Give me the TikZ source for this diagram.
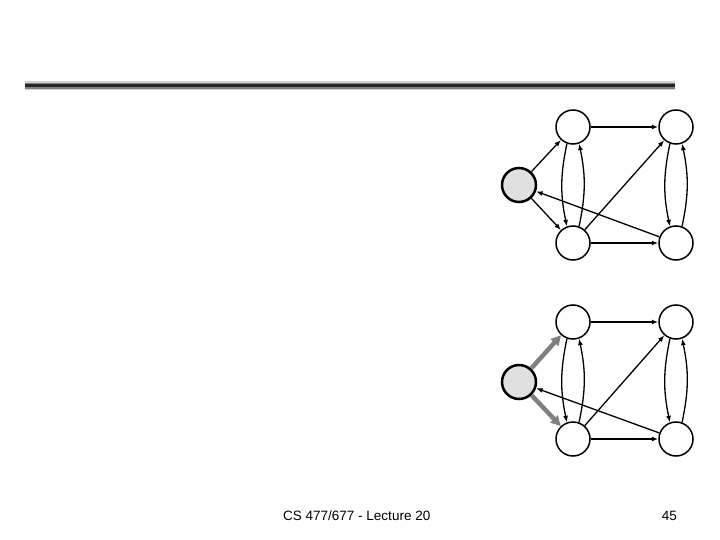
\documentclass[tikz,border=0pt]{standalone}
\usepackage{fontspec}
\setmainfont{Liberation Sans}
\usetikzlibrary{positioning, arrows.meta, shapes}

\begin{document}
\begin{tikzpicture}[
    x=1pt, y=-1pt,
    % Define specific styles to match the drawing
    vertex/.style={
        circle,
        draw=black,
        line width=1.5pt,
        fill=white,
        minimum size=34pt,
        inner sep=0pt
    },
    source/.style={
        vertex,
        line width=2.5pt,
        fill=black!12
    },
    edge/.style={
        draw=black,
        line width=1.3pt,
        -{Latex[length=6.5pt,width=5pt]}
    },
    visited/.style={
        draw=gray,
        line width=4.5pt,
        -{Triangle[length=10pt,width=10pt]}
    },
    footer/.style={
        font=\fontsize{13.5}{16}\selectfont,
        text=black,
        inner sep=0pt
    }
]
    \useasboundingbox (0,0) rectangle (720,540);

    % --- Title bar ---
    \draw[line width=9pt, black!18] (25,86) -- (675,86);
    \draw[line width=6pt, black!50] (25,86) -- (675,86);
    \draw[line width=3pt, black!85] (25,86) -- (675,86);

    % --- Upper graph ---
    \node[source] (src1) at (519,185) {};
    \node[vertex] (ul1) at (573,127) {};
    \node[vertex] (ur1) at (676,127) {};
    \node[vertex] (ll1) at (573,243) {};
    \node[vertex] (lr1) at (676,243) {};

    \draw[edge] (src1) -- (ul1);
    \draw[edge] (src1) -- (ll1);
    \draw[edge] (lr1) -- (src1);
    \draw[edge] (ul1) -- (ur1);
    \draw[edge] (ll1) -- (lr1);
    \draw[edge] (ll1) -- (ur1);
    \draw[edge] (ul1.250) to[bend right=12] (ll1.110);
    \draw[edge] (ll1.70) to[bend right=12] (ul1.290);
    \draw[edge] (ur1.250) to[bend right=12] (lr1.110);
    \draw[edge] (lr1.70) to[bend right=12] (ur1.290);

    % --- Lower graph ---
    \node[source] (src2) at (519,382) {};
    \node[vertex] (ul2) at (573,322) {};
    \node[vertex] (ur2) at (676,322) {};
    \node[vertex] (ll2) at (573,439) {};
    \node[vertex] (lr2) at (676,439) {};

    \draw[visited] (src2) -- (ul2);
    \draw[visited] (src2) -- (ll2);
    \draw[edge] (lr2) -- (src2);
    \draw[edge] (ul2) -- (ur2);
    \draw[edge] (ll2) -- (lr2);
    \draw[edge] (ll2) -- (ur2);
    \draw[edge] (ul2.250) to[bend right=12] (ll2.110);
    \draw[edge] (ll2.70) to[bend right=12] (ul2.290);
    \draw[edge] (ur2.250) to[bend right=12] (lr2.110);
    \draw[edge] (lr2.70) to[bend right=12] (ur2.290);

    % --- Footer ---
    \node[footer, anchor=base west] (course) at (283,520) {CS 477/677 - Lecture 20};
    \node[footer, anchor=base east] (page) at (677,520) {45};

\end{tikzpicture}
\end{document}
